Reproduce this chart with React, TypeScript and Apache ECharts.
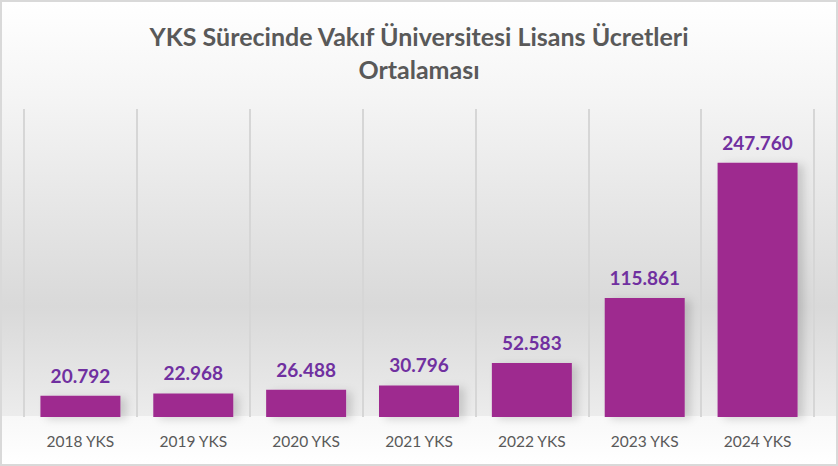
import React, { useEffect, useRef } from "react";
import * as echarts from "echarts";

const categories = ["2018 YKS", "2019 YKS", "2020 YKS", "2021 YKS", "2022 YKS", "2023 YKS", "2024 YKS"];
const values = [20792, 22968, 26488, 30796, 52583, 115861, 247760];
const titleText = "YKS Sürecinde Vakıf Üniversitesi Lisans Ücretleri\nOrtalaması";
const yMax = 300000;

function fmt(v: number): string {
  return String(Math.round(v)).replace(/\B(?=(\d{3})+(?!\d))/g, ".");
}

export default function App() {
  const ref = useRef<HTMLDivElement>(null);
  useEffect(() => {
    if (!ref.current) return;
    const chart = echarts.init(ref.current, null, { renderer: "svg" });
    chart.setOption({
      animation: false,
      backgroundColor: new echarts.graphic.LinearGradient(0, 0, 0, 1, [
        { offset: 0, color: "#ffffff" },
        { offset: 0.2, color: "#f5f5f5" },
        { offset: 0.66, color: "#d9d9d9" },
        { offset: 0.895, color: "#ececec" },
        { offset: 0.897, color: "#f8f8f8" },
        { offset: 1, color: "#ffffff" },
      ]),
      title: {
        text: titleText,
        left: "center",
        top: 12,
        textStyle: {
          fontFamily: "Lato",
          fontWeight: "bold",
          fontSize: 25,
          color: "#595959",
          lineHeight: 33,
        },
      },
      grid: { left: 22, right: 22, top: 107, bottom: 47 },
      xAxis: {
        type: "category",
        data: categories,
        axisLine: { show: false },
        axisTick: { show: false },
        axisLabel: {
          color: "#595959",
          fontFamily: "Lato",
          fontSize: 15.5,
          margin: 16,
        },
        splitLine: { show: true, lineStyle: { color: "#d6d6d6", width: 2 } },
      },
      yAxis: {
        type: "value",
        min: 0,
        max: yMax,
        show: false,
        splitLine: { show: false },
      },
      series: [
        {
          type: "bar",
          data: values,
          barWidth: 80,
          itemStyle: {
            color: "#9e2a8f",
            shadowColor: "rgba(0,0,0,0.15)",
            shadowBlur: 8,
            shadowOffsetX: 6,
            shadowOffsetY: 2,
          },
          label: {
            show: true,
            position: "top",
            distance: 11,
            color: "#7030a0",
            fontFamily: "Lato",
            fontWeight: "bold",
            fontSize: 19,
            formatter: (p: any) => fmt(p.value),
          },
        },
      ],
    });
    return () => chart.dispose();
  }, []);
  return (
    <div
      style={{
        position: "fixed",
        left: 0,
        top: 0,
        width: 838,
        height: 466,
        boxSizing: "border-box",
        border: "2px solid #d9d9d9",
      }}
    >
      <div ref={ref} style={{ width: 834, height: 462 }} />
    </div>
  );
}
